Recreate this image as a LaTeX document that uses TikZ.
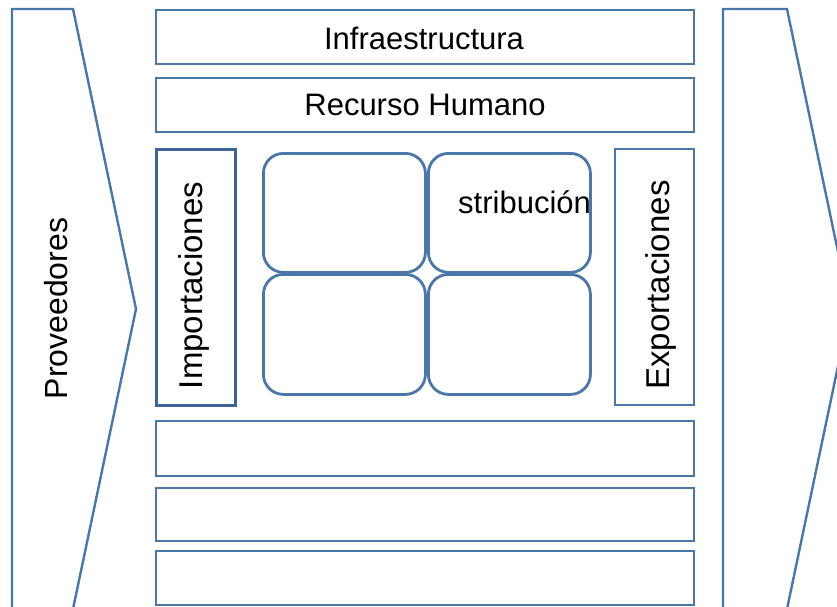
\documentclass[tikz,border=0pt]{standalone}
\usepackage{fontspec}
\setmainfont{Liberation Sans}
\definecolor{edge}{RGB}{74,118,168}
\definecolor{edgedark}{RGB}{60,100,150}
\tikzset{
  bar/.style={draw=edge, line width=2.2pt, minimum width=538pt, minimum height=#1,
    inner sep=0pt, anchor=north west},
  cell/.style={draw=edge, line width=2.8pt, rounded corners=20pt, minimum width=162pt,
    minimum height=119pt, inner sep=0pt, anchor=north west},
  side/.style={draw=edge, line width=2.2pt, inner sep=0pt, anchor=north west,
    minimum width=#1, minimum height=256pt},
  chevron/.style={draw=edge, line width=2.4pt, line join=miter},
  hlabel/.style={font=\fontsize{31}{36}\selectfont, anchor=base, inner sep=0pt},
  vlabel/.style={font=\fontsize{#1}{38}\selectfont, anchor=base, rotate=90, inner sep=0pt},
}
\begin{document}
\begin{tikzpicture}[x=1pt, y=-1pt]
  \useasboundingbox (0,0) rectangle (837,607);
  \clip (0,0) rectangle (837,607);

  % supplier and customer chevrons
  \draw[chevron] (12,615) -- (12,9) -- (73,9) -- (136,309) -- (73,609) -- (12,609);
  \draw[chevron] (723,615) -- (723,9) -- (787,9) -- (850,309) -- (787,609) -- (723,609);
  \node[vlabel=32] (prov) at (67,308.5) {Proveedores};

  % support activities
  \node[bar=54pt] (infra) at (155,9) {};
  \node[hlabel] (infratxt) at (424,49.5) {Infraestructura};
  \node[bar=54pt] (rrhh) at (155,77) {};
  \node[hlabel] (rrhhtxt) at (425,115.5) {Recurso Humano};

  % import / export columns
  \node[side=79pt, draw=edgedark, line width=3.2pt] (imp) at (155,148) {};
  \node[vlabel=33] (imptxt) at (202,285.5) {Importaciones};
  \node[side=79pt] (exp) at (614,148) {};
  \node[vlabel=33] (exptxt) at (669,285) {Exportaciones};

  % central 2x2 block
  \node[cell] (c11) at (262,152) {};
  \node[cell] (c12) at (427,152) {};
  \node[cell, minimum height=120pt] (c21) at (262,273) {};
  \node[cell, minimum height=120pt] (c22) at (427,273) {};
  \node[hlabel, anchor=base west] (dist) at (458,213) {stribución};

  % empty lower bars
  \node[bar=55pt] (b1) at (155,420) {};
  \node[bar=53pt] (b2) at (155,487) {};
  \node[bar=54pt] (b3) at (155,550) {};
\end{tikzpicture}
\end{document}
